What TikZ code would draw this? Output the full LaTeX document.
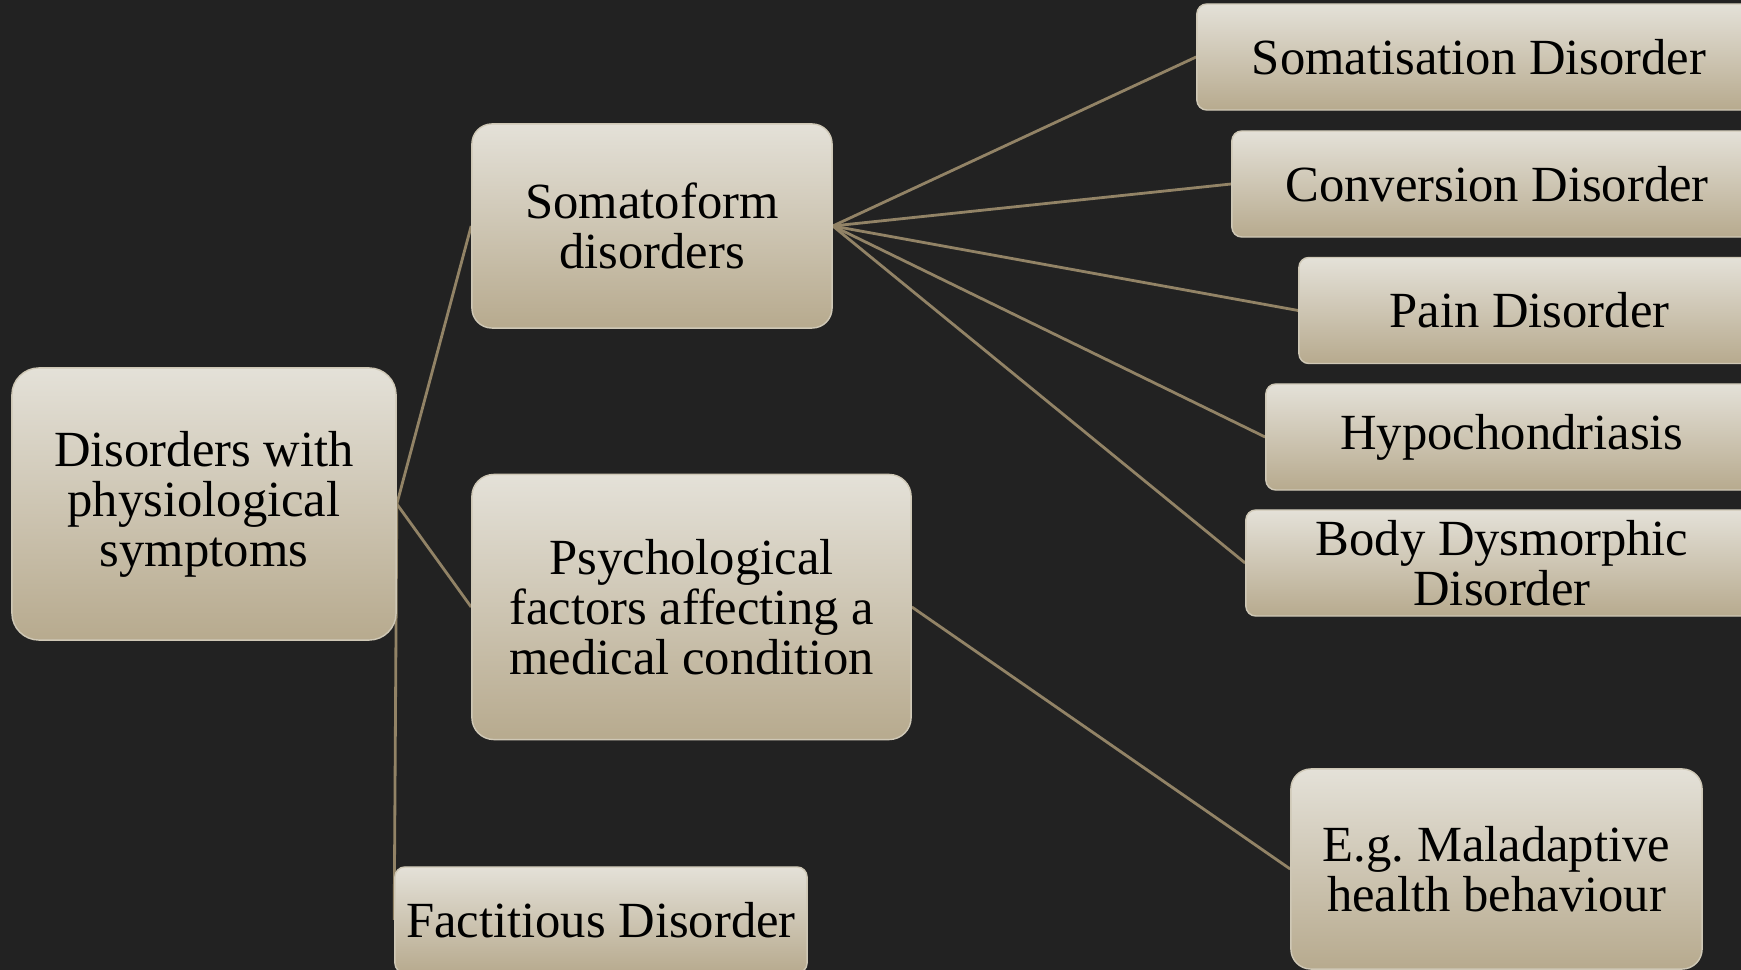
\documentclass[tikz,border=0pt]{standalone}
\usepackage{fontspec}
\setmainfont{Liberation Serif}
\frenchspacing
\pgfdeclarelayer{bg}
\pgfsetlayers{bg,main}
\definecolor{bgc}{HTML}{222222}
\definecolor{boxtop}{HTML}{E4E1D8}
\definecolor{boxbot}{HTML}{B7AA8E}
\definecolor{linec}{HTML}{928366}
\definecolor{edgec}{HTML}{CFC8B6}
\tikzset{
  box/.style={rectangle, top color=boxtop, bottom color=boxbot, draw=edgec,
    line width=0.4pt, align=center, inner sep=0pt, text=black,
    font=\fontsize{14.4pt}{14.2pt}\selectfont},
  bigbox/.style={box, rounded corners=0.22cm},
  smallbox/.style={box, rounded corners=0.1cm, minimum height=1.06cm},
  conn/.style={draw=linec, line width=0.8pt}
}
\begin{document}
\begin{tikzpicture}[x=0.01cm,y=-0.01cm]
\useasboundingbox (0,0) rectangle (1741,970);
\clip (0,0) rectangle (1741,970);
% main nodes
\node[bigbox, rounded corners=0.27cm, minimum width=3.84cm, minimum height=2.72cm] (root) at (204,504) {Disorders with\\physiological\\symptoms};
\node[bigbox, rounded corners=0.2cm, minimum width=3.60cm, minimum height=2.04cm] (soma) at (652,226) {Somatoform\\disorders};
\node[bigbox, minimum width=4.39cm, minimum height=2.65cm] (psych) at (691.5,607) {Psychological\\factors affecting a\\medical condition};
\node[smallbox, minimum width=4.12cm] (fact) at (601,920) {Factitious Disorder};
% right column
\node[smallbox, minimum width=5.64cm] (s1) at (1479,57) {Somatisation Disorder};
\node[smallbox, minimum width=5.30cm] (s2) at (1497,184) {Conversion Disorder};
\node[smallbox, minimum width=4.61cm] (s3) at (1529.5,310.5) {Pain Disorder};
\node[smallbox, minimum width=4.92cm] (s4) at (1512,437) {Hypochondriasis};
\node[smallbox, minimum width=5.12cm] (s5) at (1502,563) {Body Dysmorphic\\Disorder};
\node[bigbox, rounded corners=0.2cm, minimum width=4.11cm, minimum height=2.00cm] (mal) at (1496.5,869) {E.g. Maladaptive\\health behaviour};
\begin{pgfonlayer}{bg}
\fill[bgc] (0,0) rectangle (1741,970);
\draw[conn] (root.east) -- (soma.west);
\draw[conn] (root.east) -- (psych.west);
\draw[conn] (root.east) -- (fact.west);
\draw[conn] (soma.east) -- (s1.west);
\draw[conn] (soma.east) -- (s2.west);
\draw[conn] (soma.east) -- (s3.west);
\draw[conn] (soma.east) -- (s4.west);
\draw[conn] (soma.east) -- (s5.west);
\draw[conn] (psych.east) -- (mal.west);
\end{pgfonlayer}
\end{tikzpicture}
\end{document}
